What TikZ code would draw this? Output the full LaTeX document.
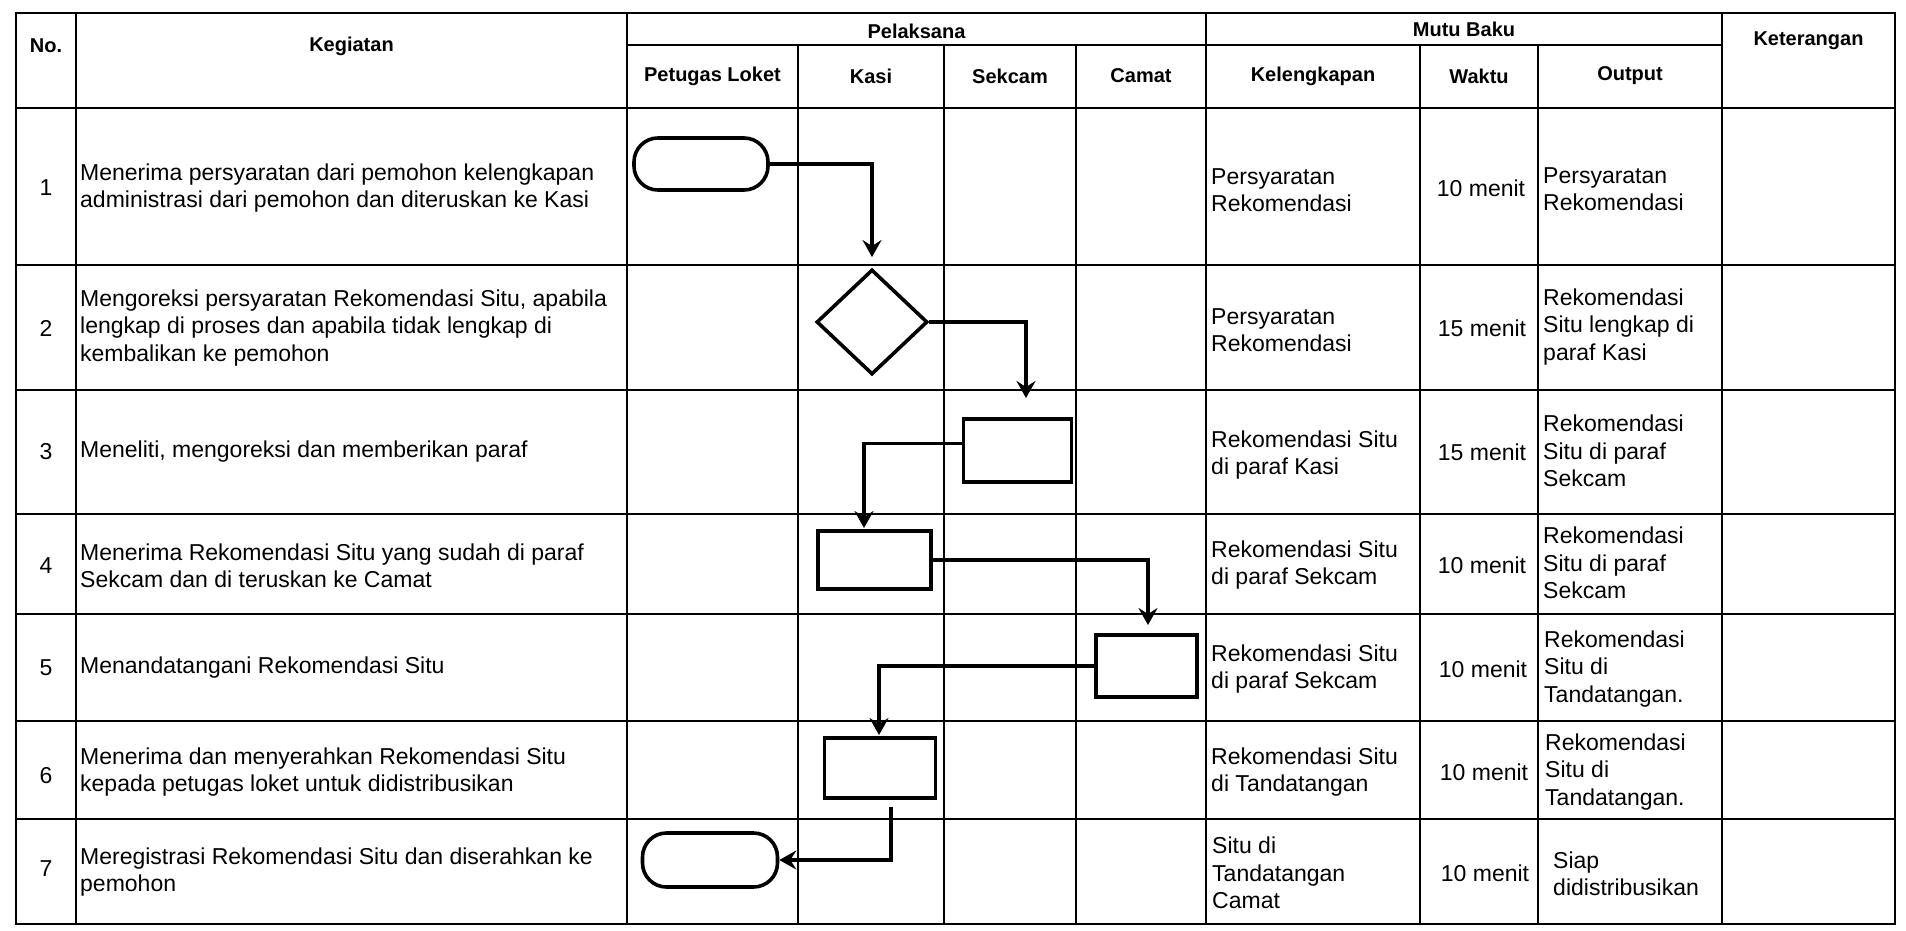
\documentclass[tikz,border=0pt]{standalone}
\usepackage{fontspec}
\setmainfont{Liberation Sans}
\usetikzlibrary{arrows.meta,shapes.geometric,calc}

\tikzset{
  gridline/.style={line width=1.7pt,black},
  headtxt/.style={font=\fontsize{20}{24}\selectfont\bfseries,inner sep=0pt},
  bodytxt/.style={font=\fontsize{23}{27.5}\selectfont,align=left,inner sep=0pt},
  flowbox/.style={draw,line width=3.6pt,inner sep=0pt},
  flowterm/.style={flowbox,rounded corners=24pt},
  flowdec/.style={flowbox,shape=diamond,aspect=1},
  flowarrow/.style={line width=3.6pt,-{Stealth[length=17pt,width=19pt,inset=6pt]}}
}

\begin{document}
\begin{tikzpicture}[x=1pt,y=-1pt]
\useasboundingbox (0,0) rectangle (1906,930);

% table
\draw[gridline] (16,13) rectangle (1895,924);
\foreach \y in {108,265,390,514,614,721,819}
  \draw[gridline] (16,\y) -- (1895,\y);
\draw[gridline] (627,45) -- (1722,45);
\foreach \x in {76,627,1206,1722}
  \draw[gridline] (\x,13) -- (\x,924);
\foreach \x in {798,944,1076,1420,1538}
  \draw[gridline] (\x,45) -- (\x,924);

% header
\node[headtxt] (hNo) at (46,46) {No.};
\node[headtxt] (hKeg) at (351.5,46) {Kegiatan};
\node[headtxt] (hPel) at (916.5,31) {Pelaksana};
\node[headtxt] (hMutu) at (1464,29) {Mutu Baku};
\node[headtxt] (hKet) at (1808.5,41) {Keterangan};
\node[headtxt] (hLoket) at (712.5,76) {Petugas Loket};
\node[headtxt] (hKasi) at (871,76) {Kasi};
\node[headtxt] (hSekcam) at (1010,76) {Sekcam};
\node[headtxt] (hCamat) at (1141,76) {Camat};
\node[headtxt] (hLengkap) at (1313,76) {Kelengkapan};
\node[headtxt] (hWaktu) at (1479,76) {Waktu};
\node[headtxt] (hOutput) at (1630,76) {Output};

% nomor
\node[bodytxt] (n1) at (46,188) {1};
\node[bodytxt] (n2) at (46,328) {2};
\node[bodytxt] (n3) at (46,452) {3};
\node[bodytxt] (n4) at (46,566) {4};
\node[bodytxt] (n5) at (46,668) {5};
\node[bodytxt] (n6) at (46,776) {6};
\node[bodytxt] (n7) at (46,869) {7};

% kegiatan
\node[bodytxt,anchor=west] (k1) at (80,188) {Menerima persyaratan dari pemohon kelengkapan\\administrasi dari pemohon dan diteruskan ke Kasi};
\node[bodytxt,anchor=west] (k2) at (80,328) {Mengoreksi persyaratan Rekomendasi Situ, apabila\\lengkap di proses dan apabila tidak lengkap di\\kembalikan ke pemohon};
\node[bodytxt,anchor=west] (k3) at (80,452) {Meneliti, mengoreksi dan memberikan paraf};
\node[bodytxt,anchor=west] (k4) at (80,566) {Menerima Rekomendasi Situ yang sudah di paraf\\Sekcam dan di teruskan ke Camat};
\node[bodytxt,anchor=west] (k5) at (80,668) {Menandatangani Rekomendasi Situ};
\node[bodytxt,anchor=west] (k6) at (80,772) {Menerima dan menyerahkan Rekomendasi Situ\\kepada petugas loket untuk didistribusikan};
\node[bodytxt,anchor=west] (k7) at (80,872) {Meregistrasi Rekomendasi Situ dan diserahkan ke\\pemohon};

% kelengkapan
\node[bodytxt,anchor=west] (l1) at (1211,190) {Persyaratan\\Rekomendasi};
\node[bodytxt,anchor=west] (l2) at (1211,330) {Persyaratan\\Rekomendasi};
\node[bodytxt,anchor=west] (l3) at (1211,455) {Rekomendasi Situ\\di paraf Kasi};
\node[bodytxt,anchor=west] (l4) at (1211,565) {Rekomendasi Situ\\di paraf Sekcam};
\node[bodytxt,anchor=west] (l5) at (1211,669) {Rekomendasi Situ\\di paraf Sekcam};
\node[bodytxt,anchor=west] (l6) at (1211,772) {Rekomendasi Situ\\di Tandatangan};
\node[bodytxt,anchor=west] (l7) at (1212,873) {Situ di\\Tandatangan\\Camat};

% waktu
\node[bodytxt] (w1) at (1481,188) {10 menit};
\node[bodytxt] (w2) at (1482,328) {15 menit};
\node[bodytxt] (w3) at (1482,452) {15 menit};
\node[bodytxt] (w4) at (1482,565) {10 menit};
\node[bodytxt] (w5) at (1483,669) {10 menit};
\node[bodytxt] (w6) at (1484,772) {10 menit};
\node[bodytxt] (w7) at (1485,873) {10 menit};

% output
\node[bodytxt,anchor=west] (o1) at (1543,189) {Persyaratan\\Rekomendasi};
\node[bodytxt,anchor=west] (o2) at (1543,327) {Rekomendasi\\Situ lengkap di\\paraf Kasi};
\node[bodytxt,anchor=west] (o3) at (1543,451) {Rekomendasi\\Situ di paraf\\Sekcam};
\node[bodytxt,anchor=west] (o4) at (1543,563) {Rekomendasi\\Situ di paraf\\Sekcam};
\node[bodytxt,anchor=west] (o5) at (1544,669) {Rekomendasi\\Situ di\\Tandatangan.};
\node[bodytxt,anchor=west] (o6) at (1545,772) {Rekomendasi\\Situ di\\Tandatangan.};
\node[bodytxt,anchor=west] (o7) at (1553,874) {Siap\\didistribusikan};

% alur
\node[flowterm,minimum width=134pt,minimum height=52pt] (t1) at (701,164) {};
\node[flowdec,minimum width=111pt,minimum height=105pt] (d2) at (872,322) {};
\node[flowbox,minimum width=108pt,minimum height=63pt] (r3) at (1017.5,450.5) {};
\node[flowbox,minimum width=113pt,minimum height=58pt] (r4) at (874.5,560) {};
\node[flowbox,minimum width=101pt,minimum height=62pt] (r5) at (1146.5,666) {};
\node[flowbox,minimum width=111pt,minimum height=60pt] (r6) at (880,768) {};
\node[flowterm,minimum width=135pt,minimum height=54pt] (t7) at (710,860) {};

\coordinate (a1) at (872,257);
\coordinate (a2) at (1026,398);
\coordinate (a3) at (864,528);
\coordinate (a4) at (1148,625);
\coordinate (a5) at (879,735);
\coordinate (s6) at (891,807);

\draw[flowarrow] (t1.east) -| (a1);
\draw[flowarrow] (d2.east) -| (a2);
\draw[flowarrow] ([yshift=7pt]r3.west) -| (a3);
\draw[flowarrow] (r4.east) -| (a4);
\draw[flowarrow] (r5.west) -| (a5);
\draw[flowarrow] (s6) |- (t7.east);

\end{tikzpicture}
\end{document}
